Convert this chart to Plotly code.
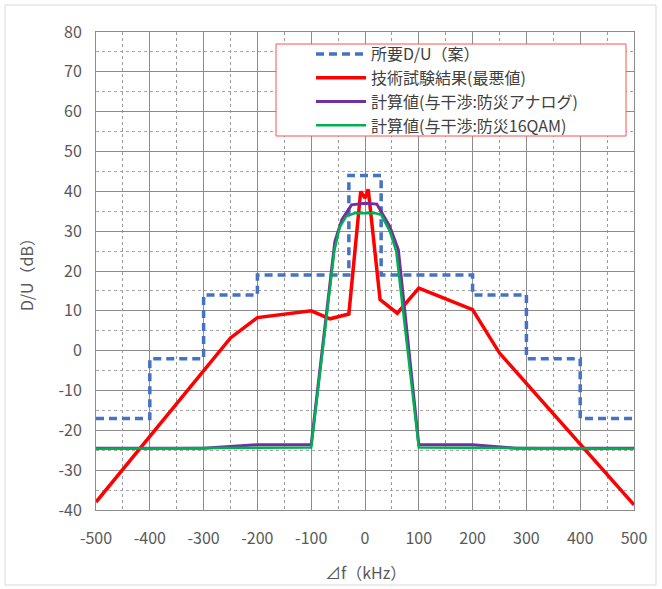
import plotly.graph_objects as go

# ---- data ----
req_x = [-500, -400, -300, -200, -30, 30, 200, 300, 400, 500]
req_y = [-17, -2, 14, 19, 44, 19, 14, -2, -17, -17]

test_x = [-500, -250, -200, -100, -65, -30, -8, 0, 6, 28, 60, 100, 200, 250, 500]
test_y = [-38, 3.2, 8.3, 10, 8, 9.2, 40, 38.3, 40.5, 12.8, 9.4, 15.7, 10.3, -0.6, -38.7]

ana_x = [-500, -300, -200, -100, -56, -43, -25, 0, 22, 46, 62, 100, 200, 280, 500]
ana_y = [-24.5, -24.5, -23.6, -23.6, 27.4, 32.9, 36.6, 37, 36.8, 31.2, 25.3, -23.6, -23.6, -24.5, -24.5]

qam_x = [-500, -100, -57, -47, -35, -20, 0, 20, 30, 46, 58, 100, 500]
qam_y = [-24.6, -24.3, 25, 31, 33.7, 34.5, 34.5, 34.5, 34.1, 30, 25, -24.3, -24.6]

names = ["所要D/U（案）", "技術試験結果(最悪値)", "計算値(与干渉:防災アナログ)", "計算値(与干渉:防災16QAM)"]
x_ticks = [-500, -400, -300, -200, -100, 0, 100, 200, 300, 400, 500]
y_ticks = [-40, -30, -20, -10, 0, 10, 20, 30, 40, 50, 60, 70, 80]

FONT = "Noto Sans CJK JP"

fig = go.Figure()
fig.add_trace(go.Scatter(x=req_x, y=req_y, name=names[0], mode="lines", line_shape="hv",
                         line=dict(color="#4472C4", width=3.5, dash="8px,5px")))
fig.add_trace(go.Scatter(x=test_x, y=test_y, name=names[1], mode="lines",
                         line=dict(color="#FF0000", width=3.5)))
fig.add_trace(go.Scatter(x=ana_x, y=ana_y, name=names[2], mode="lines",
                         line=dict(color="#7030A0", width=3)))
fig.add_trace(go.Scatter(x=qam_x, y=qam_y, name=names[3], mode="lines",
                         line=dict(color="#00B050", width=2.5)))

W, H = 662, 589
L, R, T, B = 96, 28, 32, 79
pw, ph = W - L - R, H - T - B

def px(xp):
    return (xp - L) / pw

def py(yp):
    return (H - B - yp) / ph

fig.update_layout(
    width=W, height=H,
    margin=dict(l=L, r=R, t=T, b=B, pad=0),
    paper_bgcolor="white", plot_bgcolor="white",
    font=dict(family=FONT, size=15, color="#595959"),
    showlegend=True,
    legend=dict(x=px(311), y=py(37), xanchor="left", yanchor="top",
                bgcolor="rgba(0,0,0,0)", borderwidth=0,
                font=dict(family=FONT, size=16, color="#404040"),
                itemwidth=50, tracegroupgap=0),
    xaxis=dict(range=[-500, 500], tickvals=x_ticks, ticktext=[str(v) for v in x_ticks],
               showgrid=True, gridcolor="#8c8c8c", gridwidth=1,
               minor=dict(dtick=50, tick0=0, showgrid=True, gridcolor="#9a9a9a", griddash="3px,3px", gridwidth=1),
               showline=True, linecolor="#8c8c8c", linewidth=1, mirror=True,
               zeroline=False, ticks="", ticklabelstandoff=14,
               tickfont=dict(family=FONT, size=16, color="#595959")),
    yaxis=dict(range=[-40, 80], tickvals=y_ticks, ticktext=[str(v) for v in y_ticks],
               showgrid=True, gridcolor="#8c8c8c", gridwidth=1,
               minor=dict(dtick=5, tick0=0, showgrid=True, gridcolor="#a6a6a6", griddash="3px,3px", gridwidth=1),
               showline=True, linecolor="#8c8c8c", linewidth=1, mirror=True,
               zeroline=False, ticks="", ticklabelstandoff=10,
               tickfont=dict(family=FONT, size=16, color="#595959")),
    shapes=[
        dict(type="rect", xref="paper", yref="paper",
             x0=px(276), x1=px(626), y0=py(136), y1=py(44),
             line=dict(color="#FF5050", width=1), fillcolor="white", layer="above"),
        dict(type="rect", xref="paper", yref="paper",
             x0=px(5), x1=px(656), y0=py(585), y1=py(5),
             line=dict(color="#d9d9d9", width=1), fillcolor="rgba(0,0,0,0)", layer="below"),
    ],
    annotations=[
        dict(text="D/U（dB）", xref="paper", yref="paper", x=px(26), y=0.5,
             textangle=-90, showarrow=False, xanchor="center", yanchor="middle",
             font=dict(family=FONT, size=16, color="#595959")),
        dict(text="⊿f（kHz）", xref="paper", yref="paper", x=0.5, y=py(572),
             showarrow=False, xanchor="center", yanchor="middle",
             font=dict(family=FONT, size=16, color="#595959")),
    ],
)

fig.write_html("out.html", config={"displayModeBar": False},
               post_script="document.body.style.margin='0px';document.body.style.overflow='hidden';")
